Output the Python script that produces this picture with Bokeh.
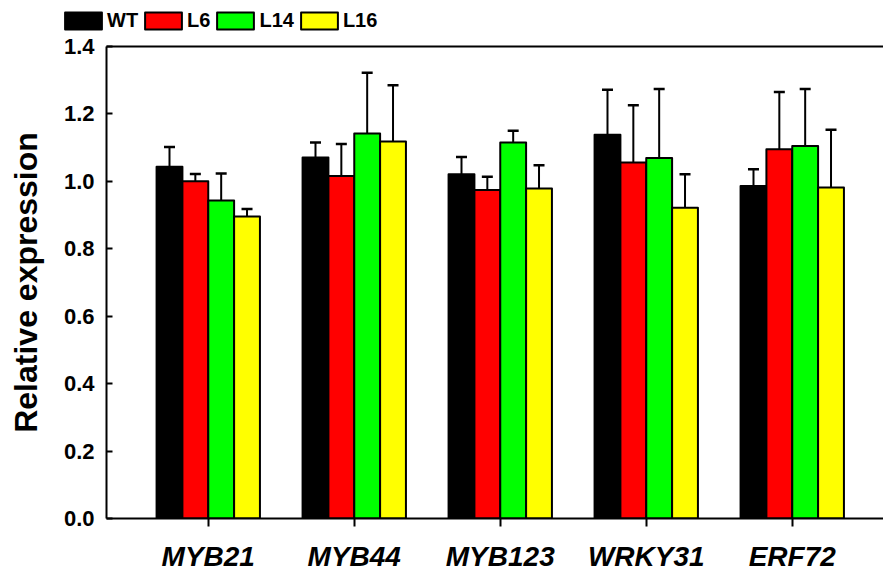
from bokeh.plotting import figure
from bokeh.layouts import column
from bokeh.models import (Range1d, FixedTicker, Whisker, TeeHead, ColumnDataSource,
                          Legend, LegendItem, LinearAxis, NumeralTickFormatter)
from bokeh.embed import file_html
from bokeh.resources import INLINE

# ---- data ----
genes = ["MYB21", "MYB44", "MYB123", "WRKY31", "ERF72"]
series_names = ["WT", "L6", "L14", "L16"]
series_colors = ["#000000", "#FF0000", "#00FF00", "#FFFF00"]

wt = [1.043, 1.071, 1.021, 1.138, 0.986]
wt_err = [0.059, 0.044, 0.051, 0.134, 0.050]
l6 = [1.000, 1.016, 0.974, 1.056, 1.095]
l6_err = [0.022, 0.095, 0.040, 0.170, 0.170]
l14 = [0.943, 1.142, 1.115, 1.069, 1.105]
l14_err = [0.080, 0.180, 0.035, 0.205, 0.169]
l16 = [0.896, 1.118, 0.979, 0.922, 0.982]
l16_err = [0.022, 0.167, 0.069, 0.099, 0.171]

y_ticks = [0.0, 0.2, 0.4, 0.6, 0.8, 1.0, 1.2, 1.4]

values = [wt, l6, l14, l16]
errors = [wt_err, l6_err, l14_err, l16_err]

FONT = "Liberation Sans"

# ---- legend strip (top) ----
top = figure(width=883, height=32, x_range=Range1d(0, 883), y_range=Range1d(0, 32),
             x_axis_location=None, y_axis_location=None,
             output_backend="svg", toolbar_location=None, min_border=0,
             frame_align=False)
top.outline_line_color = None
top.grid.visible = False
top.background_fill_color = "white"
top.border_fill_color = "white"

# ---- main figure ----
p = figure(width=883, height=542,
           x_range=Range1d(0.303, 5.625), y_range=Range1d(0, 1.4),
           output_backend="svg", toolbar_location=None,
           min_border_left=106, min_border_right=0,
           min_border_top=14, min_border_bottom=56,
           frame_align=False)
p.outline_line_color = None
p.grid.visible = False
p.background_fill_color = "white"
p.border_fill_color = "white"

xa = p.below[0]
ya = p.left[0]

bar_w = 0.177
gene_pos = list(range(1, len(genes) + 1))

items = []
for i, (name, col, vals, errs) in enumerate(zip(series_names, series_colors, values, errors)):
    off = (i - 1.5) * bar_w
    xs = [g + off for g in gene_pos]
    src = ColumnDataSource(dict(x=xs, top=vals,
                                upper=[v + e for v, e in zip(vals, errs)]))
    w = Whisker(base="x", lower="top", upper="upper", source=src, dimension="height",
                line_color="black", line_width=2,
                upper_head=TeeHead(size=11, line_width=2.5, line_color="black"),
                lower_head=None)
    p.add_layout(w)
    p.vbar(x="x", top="top", width=bar_w, source=src, fill_color=col,
           line_color="black", line_width=2, line_join="round")
    # hidden twin renderer in the legend strip; only its style is shown in the legend
    lr = top.vbar(x="x", top="top", width=bar_w, source=src, fill_color=col,
                  line_color="black", line_width=2, line_join="round", visible=False)
    items.append(LegendItem(label=name, renderers=[lr]))

legend = Legend(items=items, orientation="horizontal", location=(60, 0),
                glyph_width=46, glyph_height=21, label_height=21, label_width=10,
                label_standoff=1, spacing=2, padding=0, margin=0,
                border_line_color=None, background_fill_alpha=0,
                label_text_font=FONT, label_text_font_size="20px",
                label_text_font_style="bold", label_text_color="black",
                click_policy="none")
top.add_layout(legend)

# top frame line as an unlabeled axis
top_axis = LinearAxis(ticker=FixedTicker(ticks=[]), axis_line_width=2,
                      axis_line_color="black", major_tick_line_color=None,
                      minor_tick_line_color=None, major_label_standoff=0)
p.add_layout(top_axis, "above")

# x axis
xa.ticker = FixedTicker(ticks=gene_pos)
xa.major_label_overrides = {g: n for g, n in zip(gene_pos, genes)}
xa.minor_tick_line_color = None
xa.major_tick_in = 0
xa.major_tick_out = 8
xa.major_tick_line_width = 2
xa.axis_line_width = 2
xa.major_label_standoff = 14
xa.major_label_text_font = FONT
xa.major_label_text_font_size = "28px"
xa.major_label_text_font_style = "bold italic"
xa.major_label_text_color = "black"

# y axis
ya.ticker = FixedTicker(ticks=y_ticks)
ya.formatter = NumeralTickFormatter(format="0.0")
ya.minor_tick_line_color = None
ya.major_tick_in = 6
ya.major_tick_out = 0
ya.major_tick_line_width = 2
ya.axis_line_width = 2
ya.major_label_standoff = 12
ya.major_label_text_font = FONT
ya.major_label_text_font_size = "22px"
ya.major_label_text_font_style = "bold"
ya.major_label_text_color = "black"
ya.axis_label = "Relative expression"
ya.axis_label_text_font = FONT
ya.axis_label_text_font_size = "32px"
ya.axis_label_text_font_style = "bold"
ya.axis_label_text_color = "black"
ya.axis_label_standoff = 17

layout = column(top, p, spacing=0)
open("out.html", "w").write(file_html(layout, INLINE))
